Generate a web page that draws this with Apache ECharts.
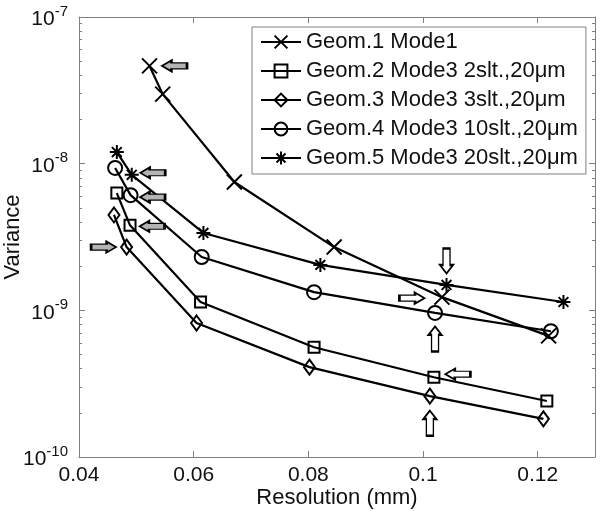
<!DOCTYPE html>
<html>
<head>
<meta charset="utf-8">
<script src="https://cdn.jsdelivr.net/npm/echarts@6/dist/echarts.min.js"></script>
<style>
html,body{margin:0;padding:0;background:#fff;}
#chart{width:600px;height:511px;}
</style>
</head>
<body>
<div id="chart"></div>
<script>
// ---- data ----
const seriesNames = [
  'Geom.1 Mode1',
  'Geom.2 Mode3 2slt.,20\u03bcm',
  'Geom.3 Mode3 3slt.,20\u03bcm',
  'Geom.4 Mode3 10slt.,20\u03bcm',
  'Geom.5 Mode3 20slt.,20\u03bcm'
];
const g1x = [0.0523, 0.0546, 0.0671, 0.0845, 0.1033, 0.1219];
const g1y = [4.64e-8, 2.98e-8, 7.5e-9, 2.7e-9, 1.23e-9, 6.7e-10];
const g2x = [0.0466, 0.0489, 0.0612, 0.0810, 0.1019, 0.1216];
const g2y = [6.3e-9, 3.8e-9, 1.14e-9, 5.6e-10, 3.5e-10, 2.41e-10];
const g3x = [0.0461, 0.0483, 0.0605, 0.0802, 0.1012, 0.1210];
const g3y = [4.47e-9, 2.7e-9, 8.2e-10, 4.1e-10, 2.6e-10, 1.82e-10];
const g4x = [0.0463, 0.0490, 0.0614, 0.0810, 0.1021, 0.1223];
const g4y = [9.35e-9, 6.1e-9, 2.31e-9, 1.33e-9, 9.6e-10, 7.2e-10];
const g5x = [0.0466, 0.0492, 0.0617, 0.0821, 0.1041, 0.1245];
const g5y = [1.2e-8, 8.4e-9, 3.37e-9, 2.04e-9, 1.49e-9, 1.14e-9];

const xTicks = [0.04, 0.06, 0.08, 0.10, 0.12];
const yTicks = [1e-10, 1e-9, 1e-8, 1e-7];
const xName = 'Resolution (mm)';
const yName = 'Variance';

// ---- styling ----
const FONT = "'Liberation Sans', Arial, sans-serif";
const AXIS_GRAY = '#808080';
const yMinor = [];
for (let d = -10; d < -7; d++) for (let m = 2; m <= 9; m++) yMinor.push(+(m * Math.pow(10, d)).toPrecision(3));

const SYM_X = 'path://M0,0 L10,10 M10,0 L0,10';
const SYM_AST = 'path://M5,0 L5,10 M0,5 L10,5 M1.5,1.5 L8.5,8.5 M8.5,1.5 L1.5,8.5';
const ARROW = {
  left: 'path://M0,5 L9,0 L9,2.3 L24,2.3 L24,7.7 L9,7.7 L9,10 Z',
  right: 'path://M24,5 L15,0 L15,2.3 L0,2.3 L0,7.7 L15,7.7 L15,10 Z',
  down: 'path://M5,24 L0,16 L2.3,16 L2.3,0 L7.7,0 L7.7,16 L10,16 Z',
  up: 'path://M5,0 L0,8 L2.3,8 L2.3,24 L7.7,24 L7.7,8 L10,8 Z'
};
function arrow(xs, ys, i, dir, offset, gray) {
  const horiz = dir === 'left' || dir === 'right';
  return {
    coord: [xs[i], ys[i]],
    symbol: ARROW[dir],
    symbolSize: gray ? [25, 11] : (horiz ? [25, 11] : [13, 25]),
    symbolOffset: offset,
    itemStyle: { color: gray ? '#b4b4b4' : '#ffffff', borderColor: '#000', borderWidth: 1.8 },
    label: { show: false }
  };
}
const arrows = [
  [arrow(g1x, g1y, 0, 'left', [25, 0], true), arrow(g1x, g1y, 4, 'right', [-30, 1], false)],
  [arrow(g2x, g2y, 1, 'left', [22, 1], true), arrow(g2x, g2y, 4, 'left', [24, -3], false)],
  [arrow(g3x, g3y, 1, 'right', [-23, 0], true), arrow(g3x, g3y, 4, 'up', [0, 27], false)],
  [arrow(g4x, g4y, 1, 'left', [22, 2], true), arrow(g4x, g4y, 4, 'up', [0, 26], false)],
  [arrow(g5x, g5y, 1, 'left', [21, -2], true), arrow(g5x, g5y, 4, 'down', [0, -24], false)]
];

const xsAll = [g1x, g2x, g3x, g4x, g5x];
const ysAll = [g1y, g2y, g3y, g4y, g5y];
const symbols = [SYM_X, 'rect', 'diamond', 'circle', SYM_AST];
const symSizes = [15, 11, [11, 15], 14, 14];

const series = seriesNames.map((name, k) => ({
  name: name,
  type: 'line',
  xAxisIndex: 0,
  yAxisIndex: 0,
  data: xsAll[k].map((x, i) => [x, ysAll[k][i]]),
  symbol: symbols[k],
  symbolSize: symSizes[k],
  showAllSymbol: true,
  lineStyle: { color: '#000', width: 2.2 },
  itemStyle: { color: 'rgba(255,255,255,0)', borderColor: '#000', borderWidth: 2 },
  emphasis: { disabled: true },
  markPoint: { symbolKeepAspect: false, data: arrows[k], animation: false, silent: true }
}));

const chart = echarts.init(document.getElementById('chart'), null, { renderer: 'canvas' });
const xMin = 0.04, xMax = 0.13;
const baseX = {
  type: 'value', min: xMin, max: xMax, interval: 0.02,
  axisLine: { show: true, lineStyle: { color: AXIS_GRAY, width: 1 } },
  axisTick: { show: true, inside: true, length: 6, customValues: xTicks, lineStyle: { color: AXIS_GRAY } },
  splitLine: { show: false }
};
const baseY = {
  type: 'log', logBase: 10, min: 1e-10, max: 1e-7,
  splitLine: { show: false },
  axisLine: { show: true, lineStyle: { color: AXIS_GRAY, width: 1 } }
};
chart.setOption({
  animation: false,
  backgroundColor: '#fff',
  textStyle: { fontFamily: FONT },
  grid: { left: 79, right: 5, top: 17, bottom: 54, containLabel: false, outerBoundsMode: 'none' },
  legend: {
    orient: 'vertical',
    left: 252, top: 27,
    padding: [4, 8, 5, 8],
    itemWidth: 40, itemHeight: 16, itemGap: 7,
    backgroundColor: '#fff',
    borderColor: AXIS_GRAY, borderWidth: 1,
    textStyle: { fontSize: 22, color: '#111', fontFamily: FONT, lineHeight: 22 },
    data: seriesNames
  },
  xAxis: [
    Object.assign({}, baseX, {
      position: 'bottom',
      name: xName, nameLocation: 'middle', nameGap: 30, nameMoveOverlap: false,
      nameTextStyle: { fontSize: 22, color: '#111', fontFamily: FONT },
      axisLabel: { show: true, customValues: xTicks, fontSize: 21, color: '#111', margin: 8,
        formatter: v => (+v.toFixed(2)).toString() }
    }),
    Object.assign({}, baseX, { position: 'top', axisLabel: { show: false } })
  ],
  yAxis: [
    Object.assign({}, baseY, {
      position: 'left',
      name: yName, nameLocation: 'middle', nameGap: 55, nameMoveOverlap: false,
      nameTextStyle: { fontSize: 22, color: '#111', fontFamily: FONT },
      axisTick: { show: true, inside: true, length: 6, customValues: yTicks, lineStyle: { color: AXIS_GRAY } },
      axisLabel: {
        show: true, customValues: yTicks, margin: 11,
        formatter: v => '{b|10}{s|' + Math.round(Math.log10(v)) + '}',
        rich: {
          b: { fontSize: 21, color: '#111', fontFamily: FONT, lineHeight: 26, verticalAlign: 'bottom' },
          s: { fontSize: 15, color: '#111', fontFamily: FONT, lineHeight: 26, verticalAlign: 'top' }
        }
      }
    }),
    Object.assign({}, baseY, {
      position: 'left', axisLine: { show: false },
      axisTick: { show: true, inside: true, length: 3, customValues: yMinor, lineStyle: { color: AXIS_GRAY } },
      axisLabel: { show: false }
    }),
    Object.assign({}, baseY, {
      position: 'right',
      axisTick: { show: true, inside: true, length: 6, customValues: yTicks, lineStyle: { color: AXIS_GRAY } },
      axisLabel: { show: false }
    }),
    Object.assign({}, baseY, {
      position: 'right', axisLine: { show: false },
      axisTick: { show: true, inside: true, length: 3, customValues: yMinor, lineStyle: { color: AXIS_GRAY } },
      axisLabel: { show: false }
    })
  ],
  series: series
});
</script>
</body>
</html>
